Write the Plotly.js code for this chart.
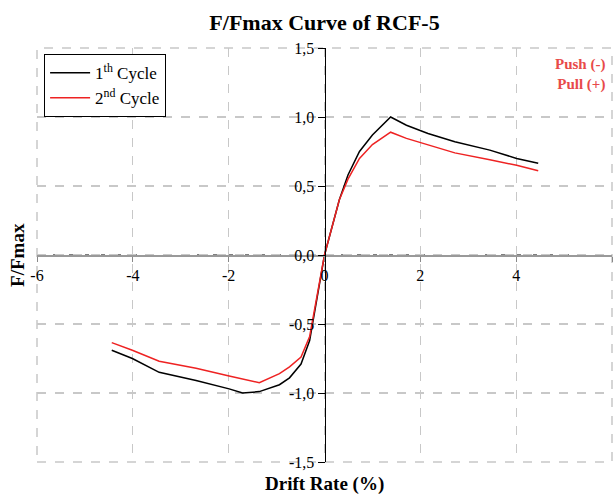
<!DOCTYPE html>
<html>
<head>
<meta charset="utf-8">
<script src="https://cdn.plot.ly/plotly-3.0.1.min.js"></script>
<style>html,body{margin:0;padding:0;background:#fff;}#chart{width:614px;height:497px;}</style>
</head>
<body>
<div id="chart"></div>
<script>
// Drift rate (%) and F/Fmax values
const cycle1Drift = [-4.44, -4.01, -3.45, -2.68, -1.99, -1.71, -1.36, -0.94, -0.73, -0.49, -0.31, 0, 0.31, 0.49, 0.73, 1.0, 1.38, 1.71, 2.16, 2.72, 3.45, 4.01, 4.46];
const cycle1Force = [-0.69, -0.75, -0.85, -0.91, -0.97, -1.0, -0.99, -0.94, -0.89, -0.79, -0.62, 0, 0.40, 0.58, 0.75, 0.87, 1.0, 0.94, 0.88, 0.82, 0.76, 0.70, 0.665];
const cycle2Drift = [-4.44, -4.01, -3.45, -2.68, -1.99, -1.36, -0.94, -0.73, -0.49, -0.31, 0, 0.31, 0.49, 0.73, 1.0, 1.38, 1.71, 2.16, 2.72, 3.45, 4.01, 4.46];
const cycle2Force = [-0.635, -0.69, -0.77, -0.82, -0.877, -0.925, -0.86, -0.81, -0.74, -0.59, 0, 0.40, 0.55, 0.70, 0.80, 0.89, 0.845, 0.80, 0.74, 0.69, 0.65, 0.61];
const seriesNames = ['1<sup>th</sup> Cycle', '2<sup>nd</sup> Cycle'];
const xTickVals = [-6, -4, -2, 0, 2, 4, 6];
const xTickText = ['-6', '-4', '-2', '0', '2', '4', '6'];
const yTickVals = [-1.5, -1.0, -0.5, 0, 0.5, 1.0, 1.5];
const yTickText = ['-1,5', '-1,0', '-0,5', '0,0', '0,5', '1,0', '1,5'];

const FONT = '"Liberation Serif", "Times New Roman", serif';
const GRID = '#c8c8c8';

const traces = [
  {x: cycle1Drift, y: cycle1Force, name: seriesNames[0], mode: 'lines', line: {color: '#000000', width: 1.5}},
  {x: cycle2Drift, y: cycle2Force, name: seriesNames[1], mode: 'lines', line: {color: '#ee2222', width: 1.5}}
];

const layout = {
  width: 614, height: 497,
  margin: {l: 37, r: 2, t: 48, b: 35},
  paper_bgcolor: '#fff', plot_bgcolor: '#fff',
  font: {family: FONT, size: 15, color: '#000'},
  title: {text: '<b>F/Fmax Curve of RCF-5</b>', font: {family: FONT, size: 22, color: '#000'},
          x: 0.5, xref: 'paper', y: 1 - 22/497, yref: 'container', yanchor: 'middle'},
  showlegend: true,
  legend: {x: 0.012, y: 0.9855, xanchor: 'left', yanchor: 'top', bordercolor: '#000', borderwidth: 1.2,
           bgcolor: '#fff', font: {family: FONT, size: 17}, tracegroupgap: 0, itemwidth: 40,
           entrywidth: 132},
  xaxis: {range: [-6, 6], tickvals: xTickVals, ticktext: xTickText, anchor: 'free', position: 0.5,
          showline: true, linecolor: '#999', linewidth: 1.5, ticks: 'outside', ticklen: 5, tickcolor: '#888',
          showgrid: true, gridcolor: GRID, griddash: 'dash', gridwidth: 1.2, zeroline: false,
          tickfont: {family: FONT, size: 16, color: '#000'}},
  yaxis: {range: [-1.5, 1.5], tickvals: yTickVals, ticktext: yTickText, anchor: 'free', position: 0.5,
          showline: true, linecolor: '#000', linewidth: 1.5, ticks: 'outside', ticklen: 7, tickcolor: '#000',
          showgrid: true, gridcolor: GRID, griddash: 'dash', gridwidth: 1.2, zeroline: false,
          tickfont: {family: FONT, size: 16, color: '#000'}},
  shapes: [
    {type: 'rect', xref: 'paper', yref: 'paper', x0: 0, x1: 1, y0: 0, y1: 1,
     line: {color: GRID, width: 1.5, dash: 'dash'}, layer: 'below'},
    {type: 'line', xref: 'paper', yref: 'y', x0: 0, x1: 1, y0: 0, y1: 0,
     line: {color: '#555', width: 1.5, dash: '4px,12px'}, layer: 'below'}
  ],
  annotations: [
    {text: '<b>F/Fmax</b>', xref: 'paper', yref: 'paper', x: -0.035, y: 0.5, textangle: -90,
     showarrow: false, xanchor: 'center', yanchor: 'middle', font: {family: FONT, size: 19}},
    {text: '<b>Drift Rate (%)</b>', xref: 'paper', yref: 'paper', x: 0.5, y: -0.052,
     showarrow: false, xanchor: 'center', yanchor: 'middle', font: {family: FONT, size: 19}},
    {text: '<b>Push (-)<br>Pull (+)</b>', xref: 'paper', yref: 'paper', x: 0.992, y: 0.985, align: 'right',
     showarrow: false, xanchor: 'right', yanchor: 'top', font: {family: FONT, size: 15, color: '#e84a4a'}}
  ]
};

Plotly.newPlot('chart', traces, layout, {displayModeBar: false, staticPlot: true});
</script>
</body>
</html>
